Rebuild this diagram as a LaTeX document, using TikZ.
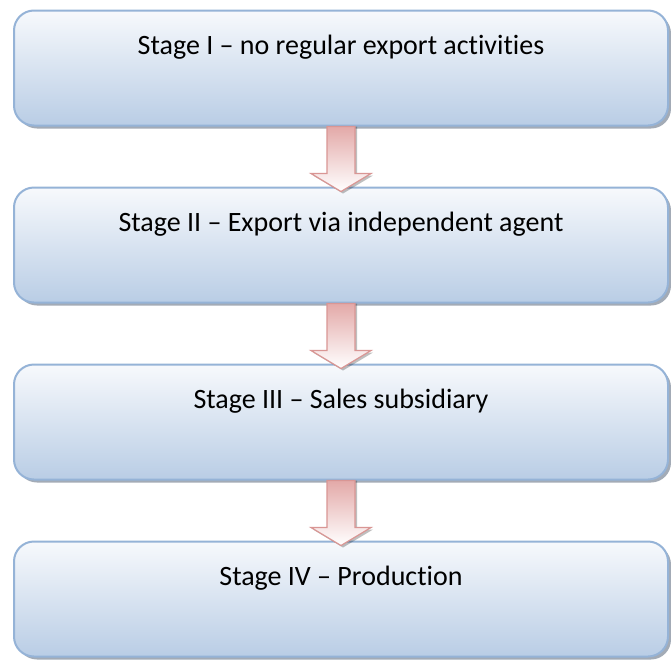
\documentclass[tikz,border=0pt]{standalone}
\usepackage{fontspec}
\setmainfont{Carlito}[Ligatures={NoCommon}]
\usetikzlibrary{calc}
\definecolor{boxedge}{HTML}{95B3D7}
\definecolor{boxtop}{HTML}{F7F9FC}
\definecolor{boxbot}{HTML}{B9CDE5}
\definecolor{arredge}{HTML}{D99694}
\definecolor{arrtop}{HTML}{E3A9A8}
\definecolor{shadowgray}{HTML}{8C97A4}
\tikzset{
  stagebox/.style={rectangle, rounded corners=20pt, minimum width=654pt, minimum height=115pt,
    draw=boxedge, line width=2pt, top color=boxtop, bottom color=boxbot, inner sep=0pt},
  boxshadow/.style={rectangle, rounded corners=20pt, minimum width=654pt, minimum height=115pt,
    fill=shadowgray, opacity=0.8, inner sep=0pt},
  stagetext/.style={font=\fontsize{28}{32}\selectfont, anchor=center, inner sep=0pt},
  flowarrow/.style={draw=arredge, line width=1.2pt, top color=arrtop, bottom color=white, line join=miter},
  arrshadow/.style={fill=black, opacity=0.25}
}
\newcommand{\flowarr}[2]{%
  \path[arrshadow] ($(#1.south)+(-14+2,0)$) -- ($(#1.south)+(14+2,0)$) -- ($(#1.south)+(14+2,47+2)$) -- ($(#1.south)+(30+2,47+2)$) -- ($(#2.north)+(2,5+2)$) -- ($(#1.south)+(-30+2,47+2)$) -- ($(#1.south)+(-14+2,47+2)$) -- cycle;
  \path[flowarrow] ($(#1.south)+(-14,0)$) -- ($(#1.south)+(14,0)$) -- ($(#1.south)+(14,47)$) -- ($(#1.south)+(30,47)$) -- ($(#2.north)+(0,5)$) -- ($(#1.south)+(-30,47)$) -- ($(#1.south)+(-14,47)$) -- cycle;}
\begin{document}
\begin{tikzpicture}[x=1pt,y=-1pt]
\useasboundingbox[fill=white] (0,0) rectangle (671,659);
\foreach \i/\yy in {1/68,2/245,3/422,4/599}{
  \node[boxshadow] (s\i) at (344,\yy+3) {};
  \node[stagebox] (b\i) at (341,\yy) {};
}
\node[stagetext] (t1) at ($(b1.north)+(0,38)$) {Stage I – no regular export activities};
\node[stagetext] (t2) at ($(b2.north)+(0,38)$) {Stage II – Export via independent agent};
\node[stagetext] (t3) at ($(b3.north)+(0,38)$) {Stage III – Sales subsidiary};
\node[stagetext] (t4) at ($(b4.north)+(0,38)$) {Stage IV – Production};
\flowarr{b1}{b2}
\flowarr{b2}{b3}
\flowarr{b3}{b4}
\end{tikzpicture}
\end{document}
